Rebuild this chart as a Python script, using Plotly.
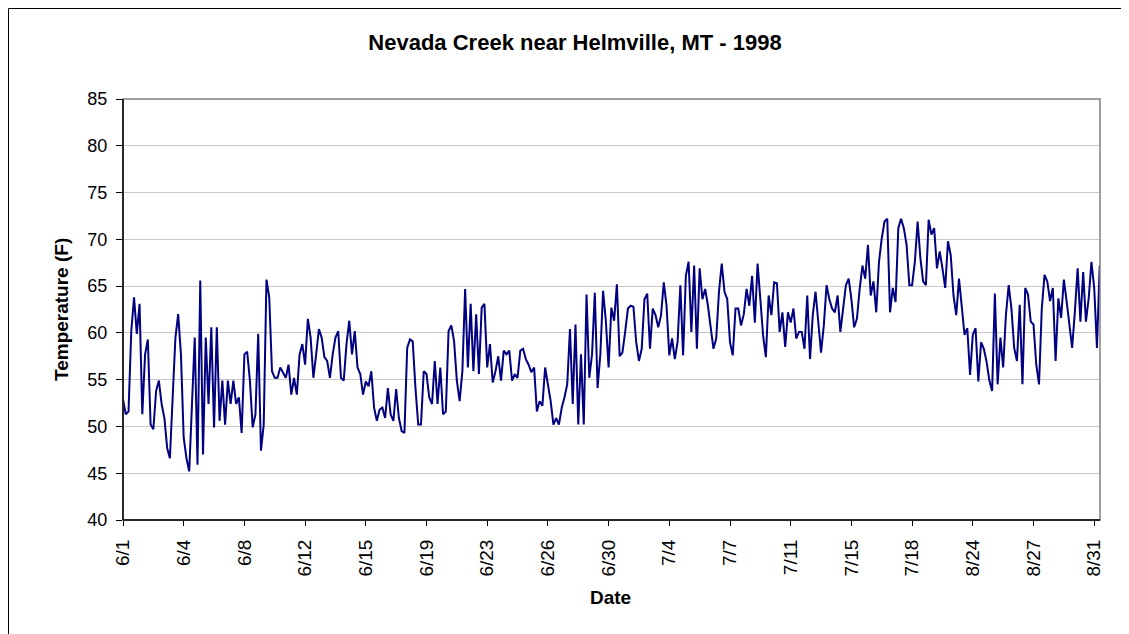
import plotly.graph_objects as go

# --- DATA (2-hourly logger readings thinned to 4-hourly) ---
# 6/1 00:00 through 7/21 08:00
temp_jun_jul = [
    52.9, 51.3, 51.6, 60.2, 63.8, 59.9, 63.1, 51.3, 57.7, 59.3,
    50.2, 49.7, 53.8, 54.9, 52.4, 50.9, 47.7, 46.6, 53.1, 59.5,
    62.0, 57.7, 48.8, 46.6, 45.2, 52.4, 59.5, 45.9, 65.6, 47.0,
    59.5, 52.4, 60.6, 49.9, 60.6, 50.6, 54.9, 50.2, 54.9, 52.4,
    54.9, 52.4, 53.1, 49.3, 57.7, 58.0, 54.9, 49.9, 51.3, 59.9,
    47.4, 50.2, 65.7, 63.8, 55.9, 55.2, 55.2, 56.3, 55.8, 55.2,
    56.6, 53.4, 55.2, 53.4, 57.7, 58.8, 56.6, 61.5, 59.5, 55.2,
    57.7, 60.4, 59.5, 57.4, 57.0, 55.2, 57.7, 59.5, 60.2, 55.2,
    54.9, 58.8, 61.3, 57.7, 60.2, 56.3, 55.6, 53.4, 54.8, 54.3,
    55.9, 52.0, 50.6, 51.8, 52.0, 50.9, 54.1, 51.3, 50.6, 54.0,
    50.9, 49.5, 49.3, 58.4, 59.3, 59.1, 54.1, 50.2, 50.2, 55.9,
    55.6, 53.1, 52.4, 57.0, 52.4, 56.3, 51.3, 51.6, 60.2, 60.8,
    59.1, 54.9, 52.7, 55.9, 64.7, 56.3, 63.1, 55.9, 62.0, 55.6,
    62.7, 63.1, 56.3, 58.8, 54.7, 55.9, 57.5, 54.9, 58.1, 57.7,
    58.1, 54.9, 55.6, 55.2, 58.1, 58.3, 57.2, 56.6, 55.8, 56.3,
    51.6, 52.7, 52.2, 56.3, 54.5, 52.7, 50.2, 50.9, 50.2, 52.0,
    53.1, 54.5, 60.4, 52.4, 60.9, 50.2, 57.7, 50.2, 64.1, 55.2,
    57.7, 64.3, 54.1, 57.7, 64.5, 61.3, 56.3, 62.7, 61.3, 65.2,
    57.5, 57.9, 60.1, 62.6, 62.9, 62.8, 59.0, 57.0, 58.3, 63.6,
    64.2, 58.3, 62.6, 61.9, 60.6, 61.9, 65.4, 62.9, 57.6, 59.4,
    57.2, 59.0, 65.1, 57.6, 66.1, 67.6, 60.1, 67.2, 58.3, 66.9,
    63.6, 64.7, 62.9, 60.8, 58.3, 59.4, 64.4, 67.4, 64.4, 63.6,
    59.0, 57.6, 62.6, 62.6, 60.8, 62.0, 64.7, 62.9, 66.1, 61.1,
    67.4, 63.6, 59.7, 57.4, 64.0, 61.9, 65.4, 65.3, 60.1, 62.2,
    58.5, 62.2, 61.1, 62.6, 59.4, 60.1, 60.1, 58.3, 64.0, 57.2,
    61.9, 64.4, 60.8, 57.9, 60.8, 65.1, 63.6, 62.6, 62.2, 64.0,
    60.1, 62.6, 65.1, 65.8, 63.6, 60.6, 61.5, 64.7, 67.2, 65.8,
    69.4, 64.0, 65.5, 62.2, 67.6, 70.1, 71.9, 72.2, 62.2, 64.8,
    63.3, 71.2, 72.2, 71.2, 69.4, 65.1, 65.1, 67.6, 71.9, 68.0,
    65.5, 65.1, 72.1, 70.5, 71.2, 66.9, 68.7, 66.9, 64.8, 69.8,
    68.3, 64.0, 61.9,
]

# 8/23 04:00 through 8/31 16:00
temp_aug = [
    65.8, 62.6, 59.8, 60.5, 55.5, 59.8, 60.5,
    54.8, 59.0, 58.3, 56.9, 54.9, 53.8, 64.2, 54.5, 59.5, 56.3,
    61.9, 65.1, 62.6, 58.4, 57.0, 63.0, 54.5, 64.8, 64.1, 61.2,
    60.9, 56.6, 54.5, 62.6, 66.2, 65.5, 63.4, 64.8, 57.0, 63.7,
    61.6, 65.7, 63.4, 61.2, 58.4, 62.3, 66.9, 61.2, 66.5, 61.2,
    63.7, 67.6, 64.8, 58.4, 67.2,
]

tick_labels = ["6/1", "6/4", "6/8", "6/12", "6/15", "6/19", "6/23", "6/26",
               "6/30", "7/4", "7/7", "7/11", "7/15", "7/18", "8/24", "8/27", "8/31"]
LABEL_EVERY = 22   # one date label every 22 readings

temps = temp_jun_jul + temp_aug
x_idx = list(range(len(temps)))
tick_vals = [i * LABEL_EVERY for i in range(len(tick_labels))]

FONT = "Arial, Liberation Sans, sans-serif"

# --- FIGURE ---
fig = go.Figure()
fig.add_trace(go.Scatter(
    x=x_idx,
    y=temps,
    mode="lines",
    line=dict(color="#000080", width=2),
    showlegend=False,
    hoverinfo="y",
))

# the page body has an 8px margin, so the figure is drawn 8px short
W, H = 1121, 626
L, R, T, B = 115, 29, 91, 114
PW, PH = W - L - R, H - T - B
BOTTOM = H - B


def px(xp):
    return (xp - L) / PW


def py(yp):
    return (BOTTOM - yp) / PH


fig.update_layout(
    width=W,
    height=H,
    margin=dict(l=L, r=R, t=T, b=B),
    paper_bgcolor="white",
    plot_bgcolor="white",
    font=dict(family=FONT, color="black"),
    title=dict(
        text="<b>Nevada Creek near Helmville, MT - 1998</b>",
        font=dict(size=22, family=FONT, color="black"),
        x=567 / W, xref="container", xanchor="center",
        y=1 - 34 / H, yref="container", yanchor="middle",
    ),
    xaxis=dict(
        range=[0, len(temps) - 0.9],
        tickmode="array",
        tickvals=tick_vals,
        ticktext=tick_labels,
        tickangle=-90,
        ticks="outside",
        ticklen=5,
        tickcolor="black",
        tickfont=dict(size=19),
        ticklabelstandoff=6,
        showgrid=False,
        showline=False,
        zeroline=False,
    ),
    yaxis=dict(
        range=[40, 85],
        dtick=5,
        ticks="outside",
        ticklen=6,
        tickcolor="black",
        tickfont=dict(size=18),
        ticklabelstandoff=5,
        showgrid=True,
        gridcolor="#c8c8c8",
        gridwidth=1,
        showline=False,
        zeroline=False,
    ),
    annotations=[
        dict(text="<b>Temperature (F)</b>", textangle=-90,
             x=px(53), y=py(302), xref="paper", yref="paper",
             xanchor="center", yanchor="middle",
             showarrow=False, font=dict(size=19)),
        dict(text="<b>Date</b>",
             x=px(602), y=py(589), xref="paper", yref="paper",
             xanchor="center", yanchor="middle",
             showarrow=False, font=dict(size=19)),
    ],
    shapes=[
        # chart border: only its left and top edges fall inside the view
        dict(type="line", xref="paper", yref="paper",
             x0=px(0.5), x1=px(0.5), y0=py(H), y1=py(0.5),
             line=dict(color="black", width=1), layer="above"),
        dict(type="line", xref="paper", yref="paper",
             x0=px(0.5), x1=px(W), y0=py(0.5), y1=py(0.5),
             line=dict(color="black", width=1), layer="above"),
        # plot-area frame (grey), then black value / category axes
        dict(type="rect", xref="paper", yref="paper", x0=0, x1=1, y0=0, y1=1,
             line=dict(color="#808080", width=1.5), layer="above"),
        dict(type="line", xref="paper", yref="paper", x0=0, x1=0, y0=0, y1=1,
             line=dict(color="black", width=1.5), layer="above"),
        dict(type="line", xref="paper", yref="paper", x0=0, x1=1, y0=0, y1=0,
             line=dict(color="black", width=1.5), layer="above"),
    ],
)

fig.write_html("out.html")
